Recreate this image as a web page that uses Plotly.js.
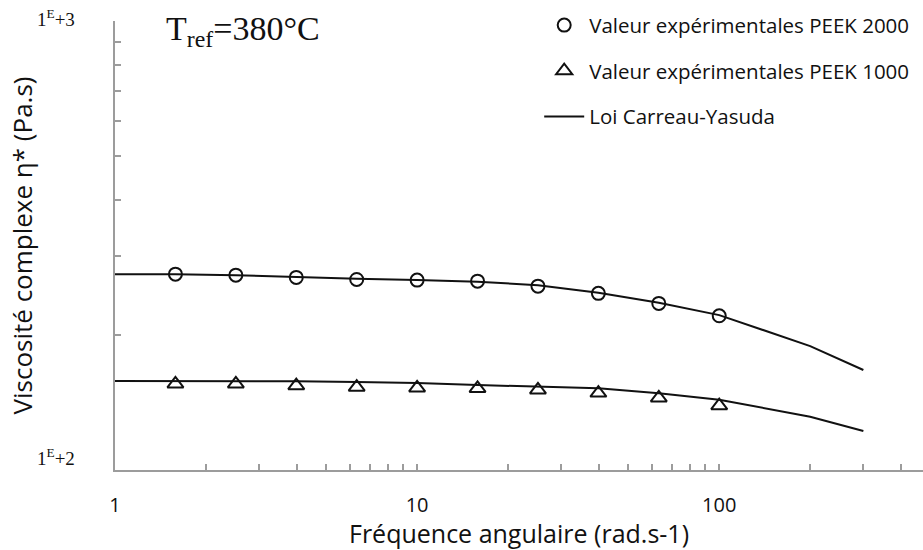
<!DOCTYPE html>
<html>
<head>
<meta charset="utf-8">
<script src="https://cdn.plot.ly/plotly-3.0.1.min.js"></script>
<style>html,body{margin:0;padding:0;background:#fff;}#chart{width:923px;height:550px;}</style>
</head>
<body>
<div id="chart"></div>
<script>
// Measured data (angular frequency in rad/s, complex viscosity in Pa.s)
var freq = [1.585, 2.512, 3.981, 6.310, 10, 15.85, 25.12, 39.81, 63.10, 100];
var peek2000 = [273.0, 271.6, 268.5, 265.7, 264.8, 263.4, 256.7, 247.4, 235.0, 220.5];
var peek1000 = [155.5, 155.5, 154.1, 152.9, 152.3, 151.9, 150.8, 148.4, 144.7, 139.1];

// Carreau-Yasuda fitted curves
var fitFreq = [1, 1.585, 2.512, 3.981, 6.310, 10, 15.85, 25.12, 39.81, 63.10, 100, 200, 300];
var fit2000 = [273.0, 273.0, 271.6, 268.9, 266.6, 264.8, 262.5, 258.0, 248.1, 235.7, 221.3, 188.8, 167.0];
var fit1000 = [157.8, 157.8, 157.8, 157.6, 157.0, 156.2, 154.6, 153.2, 152.0, 148.2, 143.4, 131.4, 122.1];

// Axis ticks
var xTickVals = [1,2,3,4,5,6,7,8,9,10,20,30,40,50,60,70,80,90,100,200,300,400];
var xTickText = ["1","","","","","","","","","10","","","","","","","","","100","","",""];
var yTickVals = [100,200,300,400,500,600,700,800,900,1000];

var names = ["Valeur expérimentales PEEK 2000", "Valeur expérimentales PEEK 1000", "Loi Carreau-Yasuda"];

var ink = '#111111';
var axisGray = '#9c9c9c';

var traces = [
  {x: fitFreq, y: fit2000, type: 'scatter', mode: 'lines', name: names[2],
   line: {color: ink, width: 2}, legendgroup: 'c', legendrank: 3, showlegend: true},
  {x: fitFreq, y: fit1000, type: 'scatter', mode: 'lines', name: names[2],
   line: {color: ink, width: 2}, legendgroup: 'c', showlegend: false},
  {x: freq, y: peek2000, type: 'scatter', mode: 'markers', name: names[0],
   marker: {symbol: 'circle-open', size: 13, color: ink, line: {width: 2, color: ink}},
   legendgroup: 'a', legendrank: 1},
  {x: freq, y: peek1000, type: 'scatter', mode: 'markers', name: names[1],
   marker: {symbol: 'triangle-up-open', size: 14, color: ink, line: {width: 2, color: ink}},
   legendgroup: 'b', legendrank: 2}
];

var layout = {
  width: 923, height: 550,
  margin: {l: 115, r: 0, t: 21, b: 80},
  paper_bgcolor: '#ffffff', plot_bgcolor: '#ffffff',
  showlegend: true,
  legend: {x: 0.525, y: 1.035, xanchor: 'left', yanchor: 'top',
           font: {family: 'Open Sans', size: 20.5, color: ink},
           bgcolor: 'rgba(0,0,0,0)', tracegroupgap: 16, itemwidth: 40},
  xaxis: {
    type: 'log', range: [0, Math.log10(472.6)],
    showgrid: false, zeroline: false,
    showline: true, linecolor: axisGray, linewidth: 2,
    ticks: 'inside', ticklen: 6, tickwidth: 2, tickcolor: axisGray,
    tickmode: 'array', tickvals: xTickVals, ticktext: xTickText,
    tickfont: {family: 'Open Sans', size: 20, color: ink},
    ticklabelstandoff: 16,
    title: {text: 'Fréquence angulaire (rad.s-1)', font: {family: 'Open Sans', size: 25, color: ink}, standoff: 8}
  },
  yaxis: {
    type: 'log', range: [2, 3],
    showgrid: false, zeroline: false,
    showline: true, linecolor: axisGray, linewidth: 2,
    ticks: 'inside', ticklen: 6, tickwidth: 2, tickcolor: axisGray,
    tickmode: 'array', tickvals: yTickVals,
    showticklabels: false,
    title: {text: 'Viscosité complexe η* (Pa.s)', font: {family: 'Open Sans', size: 26, color: ink}, standoff: 73}
  },
  annotations: [
    {xref: 'paper', yref: 'paper', x: 0.061, y: 1.03, xanchor: 'left', yanchor: 'top',
     text: 'T<sub>ref</sub>=380°C', showarrow: false,
     font: {family: 'Liberation Serif', size: 34, color: ink}},
    {xref: 'paper', yref: 'paper', x: -0.047, y: 1.007, xanchor: 'right', yanchor: 'middle',
     text: '1<sup>E</sup>+3', showarrow: false,
     font: {family: 'Liberation Serif', size: 19, color: ink}},
    {xref: 'paper', yref: 'paper', x: -0.047, y: 0.03, xanchor: 'right', yanchor: 'middle',
     text: '1<sup>E</sup>+2', showarrow: false,
     font: {family: 'Liberation Serif', size: 19, color: ink}}
  ]
};

Plotly.newPlot('chart', traces, layout, {displayModeBar: false, staticPlot: true});
</script>
</body>
</html>
